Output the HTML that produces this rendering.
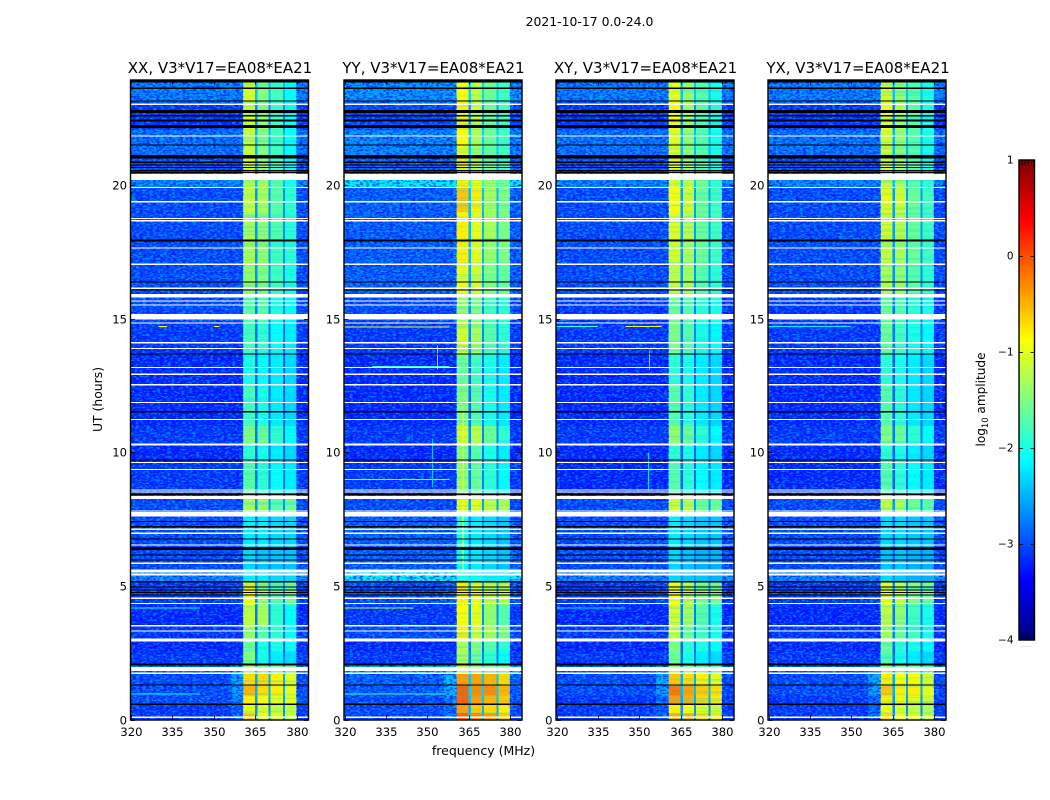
<!DOCTYPE html>
<html lang="en">
<head>
<meta charset="utf-8">
<title>2021-10-17 0.0-24.0 dynamic spectra</title>
<style>
html,body{margin:0;padding:0;background:#fff;}
svg{display:block;}
text{font-family:"DejaVu Sans","Liberation Sans",sans-serif;fill:#000;}
</style>
</head>
<body>
<svg id="chart" xmlns="http://www.w3.org/2000/svg" width="1050" height="800" viewBox="0 0 1050 800">
  <defs>
    <filter id="speckle-light" x="0" y="0" width="100%" height="100%">
      <feTurbulence type="fractalNoise" baseFrequency="0.28 0.55" numOctaves="1" seed="4"/>
      <feColorMatrix type="matrix" values="0 0 0 0 0  0 0 0 0 0.8  0 0 0 0 1  14 0 0 0 -7.1"/>
    </filter>
    <filter id="speckle-dark" x="0" y="0" width="100%" height="100%">
      <feTurbulence type="fractalNoise" baseFrequency="0.3 0.58" numOctaves="1" seed="11"/>
      <feColorMatrix type="matrix" values="0 0 0 0 0  0 0 0 0 0  0 0 0 0 0.95  0 14 0 0 -7.1"/>
    </filter>
    <filter id="streaks" x="0" y="0" width="100%" height="100%">
      <feTurbulence type="fractalNoise" baseFrequency="0.006 0.42" numOctaves="2" seed="7"/>
      <feColorMatrix type="matrix" values="0 0 0 0 0  0 0 0 0 0.55  0 0 0 0 1  6 0 0 0 -3"/>
    </filter>
  </defs>
  <g id="panels"></g>
  <g id="colorbar"></g>
  <text x="589.5" y="26" text-anchor="middle" font-size="12.4">2021-10-17 0.0-24.0</text>
  <text x="483.5" y="755" text-anchor="middle" font-size="12.5">frequency (MHz)</text>
  <text transform="translate(102,399.5) rotate(-90)" text-anchor="middle" font-size="12.4">UT (hours)</text>
  <text transform="translate(985,399.5) rotate(-90)" text-anchor="middle" font-size="12.1">log<tspan font-size="8.4" dy="3">10</tspan><tspan dy="-3"> amplitude</tspan></text>
  <text x="1026.5" y="647" text-anchor="middle" font-size="5" fill="#888" style="fill:#888">......</text>
</svg>
<script>
// ---- Data ----
const panelTitles = ["XX, V3*V17=EA08*EA21", "YY, V3*V17=EA08*EA21", "XY, V3*V17=EA08*EA21", "YX, V3*V17=EA08*EA21"];
const freqTicks = [320, 335, 350, 365, 380];
const utTicks = [0, 5, 10, 15, 20];
const colorTicks = [1, 0, -1, -2, -3, -4];

// Spectral-window boundaries (MHz): background, shoulder, four sub-bands with gaps, background
const channelEdges = [320, 356, 360.5, 364.8, 365.7, 369.8, 370.5, 374.9, 375.6, 379.8, 384];

// Time-band boundaries (UT hours)
const timeEdges = [0, 0.25, 0.57, 0.9, 1.3, 1.75, 2.1, 2.55, 3.0, 3.5, 4.3, 5.16, 5.6, 6.4, 7.6, 8.25, 9.6, 10.3, 11.0, 12.5, 13.7, 14.9, 15.9, 17.0, 18.0, 19.0, 19.95, 20.43, 21.1, 22.1, 23.1, 24];

// Extra log amplitude just below the first sub-band, per time band
const shoulderBoost = [0.25, 0.2, 0.25, 0.4, 0.45, 0.2, 0, 0, 0, 0, 0.1, 0, 0, 0, 0, 0, 0, 0, 0, 0, 0, 0, 0, 0, 0, 0, 0, 0, 0, 0, 0];

// log10 amplitude per time band: [background, band 1, band 2, band 3, band 4]
const levelsXX = [
[-3.1,-0.6,-0.9,-1.0,-1.1],[-3.1,-1.0,-1.1,-1.2,-1.2],[-3.0,-0.8,-0.9,-1.0,-1.0],[-3.0,-0.5,-0.7,-0.8,-1.0],[-3.0,-0.7,-0.7,-0.8,-1.0],
[-2.8,-1.3,-1.4,-1.5,-1.6],[-3.1,-1.5,-2.0,-2.2,-2.3],[-3.2,-1.6,-2.0,-2.0,-2.1],[-3.1,-1.4,-1.7,-1.9,-2.1],[-3.2,-1.2,-1.3,-1.9,-2.1],
[-3.1,-0.9,-1.4,-1.7,-1.5],[-2.7,-2.2,-2.2,-2.3,-2.3],[-3.0,-2.3,-2.4,-2.4,-2.4],[-3.0,-2.2,-2.2,-2.3,-2.3],[-3.0,-1.3,-1.4,-1.7,-1.6],
[-3.1,-1.7,-1.9,-2.1,-2.2],[-3.2,-1.9,-2.0,-2.2,-2.3],[-3.1,-1.5,-1.6,-1.9,-2.1],[-3.2,-1.8,-2.0,-2.2,-2.3],[-3.2,-2.0,-2.1,-2.2,-2.3],
[-3.1,-1.8,-1.9,-2.1,-2.2],[-3.0,-1.7,-1.7,-2.0,-2.1],[-3.0,-1.4,-1.5,-1.8,-2.0],[-3.0,-1.3,-1.4,-1.8,-1.9],[-3.0,-1.3,-1.4,-1.7,-1.9],
[-3.0,-1.2,-1.3,-1.7,-1.9],[-2.7,-1.3,-1.3,-1.7,-2.0],[-3.0,-1.1,-1.4,-1.8,-2.1],[-2.8,-1.2,-1.5,-1.8,-2.1],[-3.1,-1.1,-1.4,-1.8,-2.1],[-2.75,-1.1,-1.5,-1.8,-2.1]];
const levelsYY = [
[-3.0,-0.1,-0.3,-0.4,-0.6],[-3.0,-0.4,-0.6,-0.7,-0.8],[-3.0,-0.1,-0.4,-0.5,-0.6],[-2.9,-0.1,-0.3,-0.3,-0.5],[-2.9,-0.4,-0.4,-0.5,-0.7],
[-2.5,-1.1,-1.3,-1.5,-1.5],[-3.1,-1.3,-1.6,-1.9,-2.1],[-3.2,-1.3,-1.5,-1.7,-1.9],[-3.0,-0.8,-1.1,-1.3,-1.5],[-3.1,-0.9,-1.0,-1.4,-1.7],
[-3.0,-0.8,-1.0,-1.2,-1.2],[-2.2,-2.0,-2.1,-2.2,-2.2],[-2.9,-2.1,-2.2,-2.3,-2.4],[-2.9,-2.0,-2.2,-2.3,-2.4],[-3.0,-1.0,-1.0,-1.2,-1.3],
[-3.1,-1.4,-1.6,-1.9,-2.1],[-3.2,-1.5,-1.7,-2.0,-2.2],[-3.1,-1.1,-1.2,-1.6,-1.9],[-3.2,-1.5,-1.7,-2.0,-2.2],[-3.2,-1.6,-1.8,-2.0,-2.2],
[-3.1,-1.1,-1.3,-1.7,-1.9],[-3.0,-1.4,-1.5,-1.8,-1.9],[-2.9,-1.0,-1.1,-1.5,-1.6],[-2.9,-0.8,-1.0,-1.4,-1.5],[-2.9,-0.8,-1.0,-1.3,-1.5],
[-2.9,-0.6,-0.8,-1.3,-1.5],[-2.2,-0.8,-1.0,-1.4,-1.6],[-2.9,-0.8,-1.2,-1.6,-1.8],[-2.7,-0.9,-1.3,-1.6,-1.8],[-3.0,-0.8,-1.1,-1.6,-1.8],[-2.65,-0.9,-1.2,-1.6,-1.8]];
const levelsXY = [
[-3.1,-0.5,-0.5,-0.7,-0.8],[-3.1,-0.8,-0.9,-1.0,-1.0],[-3.1,-0.4,-0.5,-0.7,-0.8],[-3.0,-0.2,-0.4,-0.6,-0.7],[-3.0,-0.6,-0.7,-0.8,-1.0],
[-2.9,-1.3,-1.5,-1.6,-1.7],[-3.1,-1.6,-2.0,-2.2,-2.3],[-3.2,-1.5,-1.9,-2.0,-2.1],[-3.1,-1.2,-1.6,-1.8,-2.0],[-3.2,-1.1,-1.3,-1.7,-2.0],
[-3.1,-0.9,-1.2,-1.5,-1.5],[-2.7,-2.3,-2.4,-2.4,-2.5],[-3.0,-2.3,-2.4,-2.5,-2.5],[-3.0,-2.2,-2.3,-2.4,-2.4],[-3.0,-1.1,-1.2,-1.6,-1.6],
[-3.2,-1.7,-1.9,-2.1,-2.2],[-3.2,-1.9,-2.0,-2.2,-2.3],[-3.1,-1.4,-1.6,-1.9,-2.1],[-3.2,-1.7,-1.9,-2.2,-2.3],[-3.2,-1.9,-2.0,-2.2,-2.3],
[-3.1,-1.5,-1.7,-2.0,-2.1],[-3.1,-1.6,-1.7,-1.9,-2.0],[-3.0,-1.2,-1.3,-1.7,-1.9],[-3.0,-1.1,-1.3,-1.6,-1.8],[-3.0,-1.0,-1.2,-1.6,-1.8],
[-3.0,-0.9,-1.1,-1.6,-1.8],[-2.7,-1.1,-1.2,-1.6,-1.9],[-3.0,-1.0,-1.3,-1.7,-2.0],[-2.8,-1.0,-1.4,-1.7,-2.0],[-3.1,-0.9,-1.3,-1.7,-2.0],[-2.75,-1.0,-1.4,-1.7,-2.0]];
const levelsYX = [
[-3.1,-0.7,-0.9,-1.0,-1.2],[-3.1,-1.0,-1.1,-1.2,-1.3],[-3.1,-0.8,-0.9,-1.0,-1.1],[-3.0,-0.6,-0.8,-0.8,-1.0],[-3.0,-0.8,-0.9,-0.9,-1.1],
[-2.9,-1.4,-1.5,-1.6,-1.7],[-3.1,-1.7,-2.0,-2.2,-2.3],[-3.2,-1.6,-1.9,-2.0,-2.1],[-3.1,-1.3,-1.6,-1.8,-2.0],[-3.2,-1.2,-1.4,-1.8,-2.0],
[-3.1,-1.0,-1.2,-1.5,-1.6],[-2.7,-2.3,-2.4,-2.5,-2.5],[-3.0,-2.4,-2.4,-2.5,-2.5],[-3.0,-2.3,-2.3,-2.4,-2.4],[-3.0,-1.2,-1.3,-1.6,-1.7],
[-3.2,-1.7,-1.9,-2.1,-2.2],[-3.2,-1.9,-2.0,-2.2,-2.3],[-3.1,-1.5,-1.6,-1.9,-2.1],[-3.2,-1.7,-1.9,-2.2,-2.3],[-3.2,-1.9,-2.0,-2.2,-2.3],
[-3.1,-1.6,-1.8,-2.0,-2.1],[-3.1,-1.6,-1.7,-1.9,-2.0],[-3.0,-1.3,-1.4,-1.7,-1.9],[-3.0,-1.2,-1.3,-1.6,-1.8],[-3.0,-1.1,-1.2,-1.6,-1.8],
[-3.0,-1.0,-1.1,-1.6,-1.8],[-2.7,-1.2,-1.3,-1.7,-1.9],[-3.0,-1.1,-1.3,-1.7,-2.0],[-2.8,-1.1,-1.4,-1.7,-2.0],[-3.1,-1.0,-1.3,-1.7,-2.0],[-2.75,-1.1,-1.4,-1.7,-2.0]];

// Flagged time ranges (UT hours): [start, end]
const whiteFlags = [[0.06,0.11],[1.7,1.76],[1.82,1.96],[2.92,2.97],[2.99,3.03],[3.29,3.34],[3.49,3.54],[4.32,4.37],[4.52,4.57],[5.40,5.46],[5.50,5.62],[5.83,5.88],[6.51,6.56],[6.96,7.0],[7.11,7.15],[7.6,7.77],[7.79,7.83],[8.25,8.37],[8.5,8.54],[8.58,8.62],[9.35,9.39],[9.61,9.65],[10.26,10.33],[11.22,11.26],[11.85,11.89],[12.5,12.57],[12.91,12.95],[13.17,13.21],[13.88,13.92],[14.09,14.13],[14.83,14.87],[14.98,15.19],[15.5,15.54],[15.66,15.7],[15.8,15.93],[16.12,16.17],[17.03,17.07],[17.64,17.68],[18.66,18.7],[18.75,18.79],[19.37,19.41],[19.91,19.95],[20.2,20.43],[21.83,21.87],[23.02,23.06]];
const blackFlags = [[0.55,0.59],[1.28,1.32],[2.03,2.1],[4.64,4.68],[4.74,4.78],[4.83,4.87],[4.95,4.99],[5.14,5.18],[5.97,6.0],[6.14,6.18],[6.35,6.46],[6.74,6.78],[7.2,7.24],[7.4,7.44],[8.42,8.46],[9.7,9.74],[11.51,11.55],[13.67,13.71],[16.07,16.11],[16.37,16.41],[17.9,17.98],[20.47,20.51],[20.53,20.57],[20.66,20.7],[20.75,20.79],[20.84,20.9],[21.0,21.14],[21.5,21.54],[22.15,22.27],[22.39,22.47],[22.6,22.63],[22.72,22.83],[23.15,23.19],[23.62,23.66],[23.85,24]];

// Narrow interference: horizontal streaks [MHz start, MHz end, UT, level]
const rfiStreaksXX = [[330,333,14.74,-0.9],[350,352,14.74,-0.9],[320,345,4.19,-2.0],[320,345,0.98,-2.1]];
const rfiStreaksYY = [[320,358,14.72,-1.0],[330,358,13.24,-1.8],[320,358,9.0,-1.4],[320,345,4.19,-1.3],[320,356,0.98,-1.9]];
const rfiStreaksXY = [[320,335,14.74,-1.9],[345,358,14.74,-1.0],[320,345,4.19,-2.2]];
const rfiStreaksYX = [[320,350,14.74,-2.2]];
// Narrow interference: vertical streaks [MHz, UT start, UT end, level]
const rfiVerticalsXX = [];
const rfiVerticalsYY = [[362.7,5.6,8.0,-0.9],[362.7,8.6,11.6,-1.0],[351.6,8.7,10.5,-2.4],[353.4,13.1,14.0,-1.6]];
const rfiVerticalsXY = [[353,8.6,10.0,-2.3],[353.4,13.1,13.8,-1.8]];
const rfiVerticalsYX = [];

const panelLevels = [levelsXX, levelsYY, levelsXY, levelsYX];
const panelStreaks = [rfiStreaksXX, rfiStreaksYY, rfiStreaksXY, rfiStreaksYX];
const panelVerticals = [rfiVerticalsXX, rfiVerticalsYY, rfiVerticalsXY, rfiVerticalsYX];

// ---- Layout & scales ----
const SVG_NS = "http://www.w3.org/2000/svg";
const panelLeft = [131, 344.5, 556.5, 768.5];
const panelWidth = 177;
const plotTop = 80.5, plotBottom = 719.5;
const freqMin = 320, freqMax = 384, utMin = 0, utMax = 23.93;
const cbLeft = 1019, cbRight = 1034.5, cbTop = 160, cbBottom = 640;
const levelMin = -4, levelMax = 1;

function xScale(panel, mhz) { return panelLeft[panel] + (mhz - freqMin) / (freqMax - freqMin) * panelWidth; }
function yScale(ut) { return plotBottom - (ut - utMin) / (utMax - utMin) * (plotBottom - plotTop); }
function cbScale(level) { return cbBottom - (level - levelMin) / (levelMax - levelMin) * (cbBottom - cbTop); }
function clamp01(v) { return Math.max(0, Math.min(1, v)); }
function jet(level) {
  const t = clamp01((level - levelMin) / (levelMax - levelMin));
  const r = clamp01(1.5 - Math.abs(4 * t - 3));
  const g = clamp01(1.5 - Math.abs(4 * t - 2));
  const b = clamp01(1.5 - Math.abs(4 * t - 1));
  return "rgb(" + Math.round(r * 255) + "," + Math.round(g * 255) + "," + Math.round(b * 255) + ")";
}
function make(tag, attrs, parent) {
  const el = document.createElementNS(SVG_NS, tag);
  for (const key in attrs) el.setAttribute(key, attrs[key]);
  parent.appendChild(el);
  return el;
}
function channelLevel(row, boost, channel) {
  const bg = row[0];
  const gap = bg + 0.2 * (Math.max(row[1], row[2], row[3], row[4]) - bg);
  const map = [bg, bg + boost, row[1], gap, row[2], gap, row[3], gap, row[4], bg];
  return map[channel];
}

const panelsGroup = document.getElementById("panels");
panelTitles.forEach(function (title, p) {
  const g = make("g", {}, panelsGroup);
  
  

  const clipId = "clip-" + p;
  const clip = make("clipPath", { id: clipId }, g);
  make("rect", { x: panelLeft[p], y: plotTop, width: panelWidth, height: plotBottom - plotTop }, clip);
  const plot = make("g", { "clip-path": "url(#" + clipId + ")", "shape-rendering": "crispEdges" }, g);

  // Heatmap cells
  panelLevels[p].forEach(function (row, bandIndex) {
    for (let c = 0; c < channelEdges.length - 1; c++) {
      const x0 = xScale(p, channelEdges[c]), x1 = xScale(p, channelEdges[c + 1]);
      const y0 = yScale(timeEdges[bandIndex + 1]), y1 = yScale(timeEdges[bandIndex]);
      const cell = make("rect", {
        x: x0, y: y0, width: x1 - x0, height: y1 - y0,
        fill: jet(channelLevel(row, shoulderBoost[bandIndex], c))
      }, plot);
      
      
    }
  });

  // Pixel texture over the background channels and streak texture over the sub-bands
  const bgEnd = xScale(p, channelEdges[2]);
  [[panelLeft[p], bgEnd], [xScale(p, channelEdges[9]), panelLeft[p] + panelWidth]].forEach(function (span) {
    const light = make("rect", { x: span[0], y: plotTop, width: span[1] - span[0], height: plotBottom - plotTop, filter: "url(#speckle-light)", opacity: 0.38 }, plot);
    
    
    const dark = make("rect", { x: span[0], y: plotTop, width: span[1] - span[0], height: plotBottom - plotTop, filter: "url(#speckle-dark)", opacity: 0.55 }, plot);
    
    
  });
  const streak = make("rect", { x: bgEnd, y: plotTop, width: xScale(p, channelEdges[9]) - bgEnd, height: plotBottom - plotTop, filter: "url(#streaks)", opacity: 0.22 }, plot);
  
  

  // Interference
  panelStreaks[p].forEach(function (s) {
    const line = make("rect", { x: xScale(p, s[0]), y: yScale(s[2]), width: xScale(p, s[1]) - xScale(p, s[0]), height: 1, fill: jet(s[3]) }, plot);
    
    
  });
  panelVerticals[p].forEach(function (s) {
    const line = make("rect", { x: xScale(p, s[0]), y: yScale(s[2]), width: 1.2, height: yScale(s[1]) - yScale(s[2]), fill: jet(s[3]) }, plot);
    
    
  });

  // Flagged rows
  whiteFlags.forEach(function (f) {
    const y0 = yScale(f[1]), y1 = yScale(f[0]);
    const row = make("rect", { x: panelLeft[p], y: y0, width: panelWidth, height: Math.max(1.2, y1 - y0), fill: "#fff" }, plot);
    
    
  });
  blackFlags.forEach(function (f) {
    const y0 = yScale(f[1]), y1 = yScale(f[0]);
    const row = make("rect", { x: panelLeft[p], y: y0, width: panelWidth, height: Math.max(1.2, y1 - y0), fill: "#000" }, plot);
    
    
  });

  // Frame
  const frame = make("rect", {
    x: panelLeft[p] - 0.5, y: plotTop - 0.5, width: panelWidth + 1, height: plotBottom - plotTop + 1,
    fill: "none", stroke: "#000", "stroke-width": 1.4
  }, g);
  
  

  // Title
  const titleEl = make("text", { x: panelLeft[p] + panelWidth / 2 + (p === 3 ? 1 : 0.5), y: 73, "text-anchor": "middle", "font-size": 15 }, g);
  titleEl.textContent = title;
  
  

  // X ticks
  freqTicks.forEach(function (f) {
    const x = Math.round(xScale(p, f)) + 0.5;
    const tickBottom = make("line", { x1: x, x2: x, y1: plotBottom, y2: plotBottom - 4, stroke: "#000", "stroke-width": 0.8 }, g);
    
    
    const tickTop = make("line", { x1: x, x2: x, y1: plotTop, y2: plotTop + 4, stroke: "#000", "stroke-width": 0.8 }, g);
    
    
    const label = make("text", { x: x, y: 736, "text-anchor": "middle", "font-size": 11.6 }, g);
    label.textContent = f;
    
    
  });

  // Y ticks
  utTicks.forEach(function (u) {
    const y = Math.round(yScale(u)) + 0.5;
    const tickLeft = make("line", { x1: panelLeft[p], x2: panelLeft[p] + 4, y1: y, y2: y, stroke: "#000", "stroke-width": 0.8 }, g);
    
    
    const tickRight = make("line", { x1: panelLeft[p] + panelWidth, x2: panelLeft[p] + panelWidth - 4, y1: y, y2: y, stroke: "#000", "stroke-width": 0.8 }, g);
    
    
    const label = make("text", { x: panelLeft[p] - 4, y: y + 4, "text-anchor": "end", "font-size": 11.6 }, g);
    label.textContent = u;
    
    
  });
});

// ---- Colorbar ----
const cbGroup = document.getElementById("colorbar");
const cbSteps = 240;
for (let i = 0; i < cbSteps; i++) {
  const lo = levelMin + (levelMax - levelMin) * i / cbSteps;
  const hi = levelMin + (levelMax - levelMin) * (i + 1) / cbSteps;
  const seg = make("rect", { x: cbLeft, y: cbScale(hi), width: cbRight - cbLeft, height: cbScale(lo) - cbScale(hi), fill: jet((lo + hi) / 2), "shape-rendering": "crispEdges" }, cbGroup);
  
  
}
const cbFrame = make("rect", { x: cbLeft, y: cbTop, width: cbRight - cbLeft, height: cbBottom - cbTop, fill: "none", stroke: "#000", "stroke-width": 1.4 }, cbGroup);


colorTicks.forEach(function (t) {
  const y = Math.round(cbScale(t)) + 0.5;
  if (t !== levelMax && t !== levelMin) {
    const tl = make("line", { x1: cbLeft, x2: cbLeft + 4, y1: y, y2: y, stroke: "#000", "stroke-width": 0.8 }, cbGroup);
    
    
    const tr = make("line", { x1: cbRight, x2: cbRight - 4, y1: y, y2: y, stroke: "#000", "stroke-width": 0.8 }, cbGroup);
    
    
  }
  const label = make("text", { x: 1013.5, y: y + 2.8, "text-anchor": "end", "font-size": 10.5 }, cbGroup);
  label.textContent = t < 0 ? "\u2212" + Math.abs(t) : String(t);
  
  
});
for (let k = 1; k < 5; k++) {
  const x = cbLeft + (cbRight - cbLeft) * k / 5;
  const mt = make("line", { x1: x, x2: x, y1: cbTop, y2: cbTop + 6, stroke: "#000", "stroke-width": 0.8 }, cbGroup);
  
  
  const mb = make("line", { x1: x, x2: x, y1: cbBottom, y2: cbBottom - 6, stroke: "#000", "stroke-width": 0.8 }, cbGroup);
  
  
}
</script>
</body>
</html>
